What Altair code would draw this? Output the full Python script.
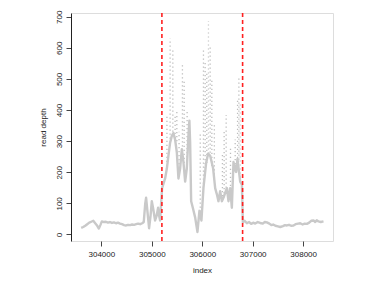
import altair as alt
import pandas as pd

# dense read-depth trace (index, depth)
base_x = [303600, 303640, 303680, 303720, 303760, 303800, 303840, 303870, 303910, 303950,
          303980, 304010, 304050, 304090, 304130, 304170, 304210, 304250, 304290, 304330,
          304370, 304410, 304450, 304490, 304530, 304570, 304610, 304650, 304690, 304730,
          304770, 304810, 304840, 304870, 304887, 304910, 304946, 304975, 305000, 305030,
          305065, 305095, 305125, 305145, 305165, 305185, 305204, 305264, 305298, 305329,
          305363, 305397, 305428, 305462, 305496, 305528, 305561, 305595, 305627, 305661,
          305694, 305726, 305745, 305760, 305780, 305813, 305859, 305905, 305944, 305984,
          306024, 306077, 306117, 306157, 306216, 306256, 306290, 306321, 306355, 306389,
          306420, 306488, 306520, 306553, 306587, 306619, 306672, 306698, 306752, 306786,
          306805, 306840, 306885, 306930, 306970, 307010, 307050, 307100, 307149, 307200,
          307240, 307282, 307330, 307370, 307406, 307450, 307500, 307546, 307600, 307640,
          307678, 307720, 307760, 307809, 307850, 307900, 307942, 307990, 308030, 308075,
          308120, 308160, 308206, 308240, 308270, 308305, 308350, 308404]
base_y = [21, 24, 28, 33, 38, 41, 44, 38, 30, 19,
          30, 42, 40, 41, 38, 40, 37, 39, 36, 38,
          35, 33, 30, 29, 31, 30, 32, 31, 33, 35,
          33, 36, 40, 100, 118, 80, 20, 60, 107, 80,
          45, 60, 86, 60, 45, 100, 149, 180, 212, 253,
          295, 317, 326, 305, 264, 180, 212, 274, 233, 170,
          212, 317, 366, 295, 107, 86, 55, 8, 76, 45,
          150, 230, 260, 253, 212, 149, 129, 107, 139, 107,
          118, 149, 107, 149, 86, 233, 201, 243, 170, 160,
          39, 44, 36, 40, 34, 38, 35, 40, 37, 35,
          40, 39, 35, 30, 32, 28, 26, 24, 27, 30,
          29, 31, 28, 29, 33, 35, 36, 32, 35, 34,
          38, 44, 45, 40, 46, 42, 40, 42]

# sparse high-depth streaks (index, low, high)
col_x = [305300, 305363, 305417, 305462, 305496, 305540, 305607, 305641, 305700,
         305960, 306024, 306057, 306090, 306123, 306157, 306190, 306240, 306400,
         306434, 306474, 306560, 306653, 306700, 306726, 306752]
col_lo = [220, 295, 330, 310, 300, 200, 270, 230, 210,
          60, 150, 200, 230, 260, 250, 220, 180, 110,
          120, 150, 130, 200, 220, 240, 170]
col_hi = [380, 630, 600, 380, 400, 330, 551, 493, 400,
          330, 598, 560, 520, 686, 608, 500, 360, 260,
          330, 384, 280, 305, 430, 504, 420]

# breakpoints
vlines = [305200, 306800]

x_ticks = [304000, 305000, 306000, 307000, 308000]
y_ticks = [0, 100, 200, 300, 400, 500, 600, 700]

base = pd.DataFrame({"index": base_x, "depth": base_y})
cols = pd.DataFrame({"index": col_x, "lo": col_lo, "hi": col_hi})
vl = pd.DataFrame({"index": vlines})

xs = alt.Scale(domain=[303398, 308592], nice=False, zero=False)
ys = alt.Scale(domain=[-21, 712], nice=False, zero=False)

font = "Liberation Sans"
xaxis = alt.Axis(values=x_ticks, format="d", title="index", grid=False,
                 tickSize=5, labelFontSize=8, titleFontSize=8, labelFont=font,
                 titleFont=font, titleFontWeight="normal", labelColor="#222",
                 titleColor="#222", domain=False, tickColor="#444", titlePadding=8,
                 labelPadding=4, labelOverlap=False, labelFlush=False)
yaxis = alt.Axis(values=y_ticks, format="d", title="read depth", grid=False,
                 tickSize=5, labelFontSize=8, titleFontSize=8, labelFont=font,
                 titleFont=font, titleFontWeight="normal", labelAngle=-90,
                 labelAlign="center", labelBaseline="bottom", labelColor="#222",
                 titleColor="#222", domainColor="#222", tickColor="#444",
                 titlePadding=8, labelPadding=3, labelOverlap=False, labelFlush=False)

streaks = alt.Chart(cols).mark_rule(color="#bdbdbd", strokeWidth=1.3,
                                    strokeDash=[1.2, 2.8]).encode(
    x=alt.X("index:Q", scale=xs, axis=xaxis),
    y=alt.Y("lo:Q", scale=ys, axis=yaxis),
    y2="hi:Q",
)

trace = alt.Chart(base).mark_line(color="#c9c9c9", strokeWidth=2.4,
                                  strokeJoin="round").encode(
    x=alt.X("index:Q", scale=xs, axis=xaxis),
    y=alt.Y("depth:Q", scale=ys, axis=yaxis),
)

red = alt.Chart(vl).mark_rule(color="#ff2020", strokeWidth=1.6,
                              strokeDash=[4, 3]).encode(
    x=alt.X("index:Q", scale=xs, axis=xaxis),
)

chart = alt.layer(streaks, trace, red).properties(
    width=262, height=228,
    padding={"left": 63, "top": 5, "right": 30, "bottom": 40},
    autosize=alt.AutoSizeParams(type="none"),
).configure_view(stroke="#777", strokeWidth=1).configure(background="white")

chart.save("out.html", embed_options={"renderer": "svg", "actions": False})
